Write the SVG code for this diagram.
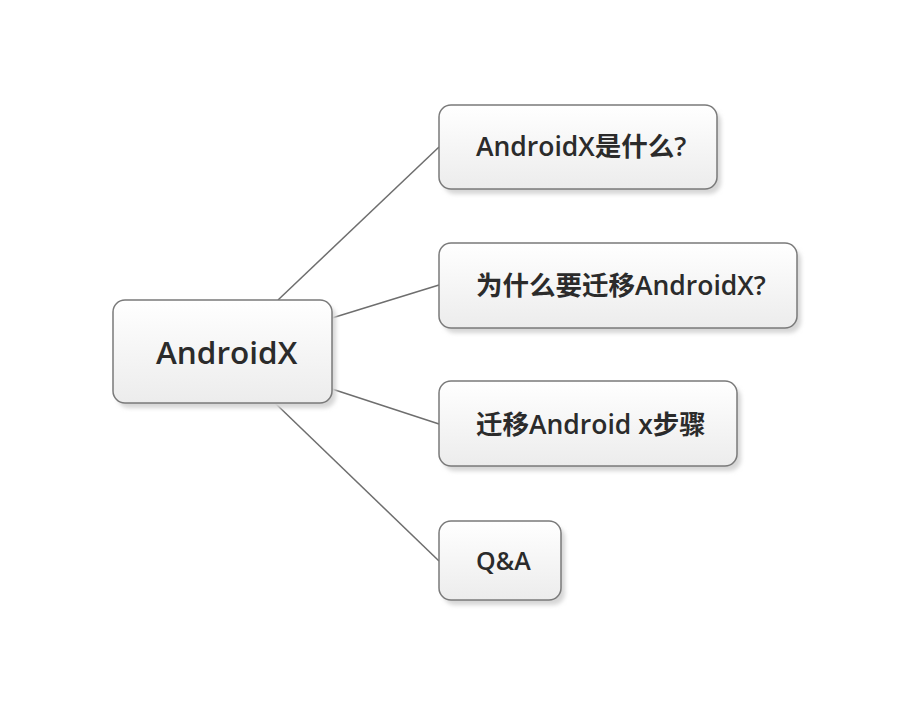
<svg xmlns="http://www.w3.org/2000/svg" width="914" height="706" viewBox="0 0 914 706">
<defs>
<linearGradient id="g" x1="0" y1="0" x2="0" y2="1">
<stop offset="0" stop-color="#ffffff"/>
<stop offset="1" stop-color="#ececec"/>
</linearGradient>
<filter id="sh" x="-10%" y="-10%" width="130%" height="140%">
<feGaussianBlur stdDeviation="2"/>
</filter>
</defs>
<style>
.box{fill:url(#g);stroke:#7a7a7a;stroke-width:1.5}
.shadow{fill:#d6d6d6;filter:url(#sh)}
.t{font-family:"Open Sans","Noto Sans CJK SC",sans-serif;font-weight:600;fill:#2b2b2b;dominant-baseline:central}
.c{stroke:#6e6e6e;stroke-width:1.5;fill:none}
</style>
<rect width="914" height="706" fill="#ffffff"/>
<g id="connectors">
<line class="c" x1="278" y1="300" x2="439" y2="147"/>
<line class="c" x1="332" y1="318" x2="439" y2="285"/>
<line class="c" x1="332" y1="389" x2="439" y2="424"/>
<line class="c" x1="275" y1="403" x2="439" y2="561"/>
</g>
<g id="root">
<rect class="shadow" x="117" y="305" width="219" height="103" rx="12"/>
<rect class="box" x="113" y="300" width="219" height="103" rx="12"/>
<text class="t" x="156" y="351" font-size="31.5">AndroidX</text>
</g>
<g id="n1">
<rect class="shadow" x="443" y="110" width="278" height="84" rx="12"/>
<rect class="box" x="439" y="105" width="278" height="84" rx="12"/>
<text class="t" x="476" y="146" font-size="26.5">AndroidX是什么?</text>
</g>
<g id="n2">
<rect class="shadow" x="443" y="248" width="358" height="85" rx="12"/>
<rect class="box" x="439" y="243" width="358" height="85" rx="12"/>
<text class="t" x="476" y="285" font-size="26.5">为什么要迁移AndroidX?</text>
</g>
<g id="n3">
<rect class="shadow" x="443" y="386" width="298" height="85" rx="12"/>
<rect class="box" x="439" y="381" width="298" height="85" rx="12"/>
<text class="t" x="476" y="424" font-size="26.5">迁移Android x步骤</text>
</g>
<g id="n4">
<rect class="shadow" x="443" y="526" width="122" height="79" rx="12"/>
<rect class="box" x="439" y="521" width="122" height="79" rx="12"/>
<text class="t" x="476" y="560" font-size="25">Q&amp;A</text>
</g>
</svg>
